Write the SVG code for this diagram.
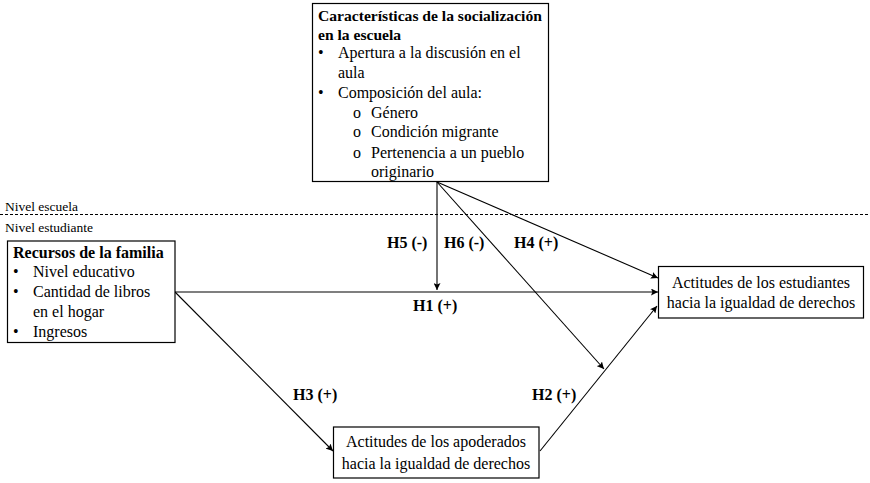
<svg xmlns="http://www.w3.org/2000/svg" width="870" height="483" viewBox="0 0 870 483">
<style>
text{font-family:'Liberation Serif','Times New Roman',serif;font-size:16px;fill:#000}
.b{font-weight:bold}
.t{font-size:15.6px}
.s{font-size:13.5px}
.c{text-anchor:middle}
.box{fill:#fff;stroke:#000;stroke-width:1.2}
.ln{stroke:#000;stroke-width:1.1;fill:none}
</style>
<defs>
<marker id="ah" viewBox="0 0 10 10" refX="10" refY="5" markerWidth="7" markerHeight="7" orient="auto" markerUnits="userSpaceOnUse">
<path d="M0,0 L10,5 L0,10 L2,5 Z" fill="#000"/>
</marker>
</defs>
<rect width="870" height="483" fill="#fff"/>
<g id="levels">
<line x1="0" y1="214.5" x2="870" y2="214.5" stroke="#000" stroke-width="1" stroke-dasharray="3,2"/>
<text class="s" x="5" y="211">Nivel escuela</text>
<text class="s" x="5" y="232">Nivel estudiante</text>
</g>
<g id="connectors">
<line class="ln" x1="437" y1="182" x2="437" y2="290" marker-end="url(#ah)"/>
<line class="ln" x1="175" y1="292" x2="658" y2="292" marker-end="url(#ah)"/>
<line class="ln" x1="437" y1="182" x2="658" y2="278" marker-end="url(#ah)"/>
<line class="ln" x1="437" y1="182" x2="604" y2="369" marker-end="url(#ah)"/>
<line class="ln" x1="540" y1="451" x2="657" y2="306" marker-end="url(#ah)"/>
<line class="ln" x1="175" y1="292" x2="333" y2="451" marker-end="url(#ah)"/>
<text class="b" x="387" y="248">H5 (-)</text>
<text class="b" x="444" y="248">H6 (-)</text>
<text class="b" x="514" y="248">H4 (+)</text>
<text class="b" x="413" y="311">H1 (+)</text>
<text class="b" x="293" y="400">H3 (+)</text>
<text class="b" x="532" y="400">H2 (+)</text>
</g>
<g id="escuela">
<rect class="box" x="312.5" y="3.5" width="236" height="178"/>
<text class="b t" x="318" y="21">Características de la socialización</text>
<text class="b t" x="318" y="40">en la escuela</text>
<text x="318" y="58">•</text><text x="338" y="58">Apertura a la discusión en el</text>
<text x="338" y="78">aula</text>
<text x="318" y="98">•</text><text x="338" y="98">Composición del aula:</text>
<text x="353" y="118">o</text><text x="371" y="118">Género</text>
<text x="353" y="137">o</text><text x="371" y="137">Condición migrante</text>
<text x="353" y="158">o</text><text x="371" y="158">Pertenencia a un pueblo</text>
<text x="371" y="177">originario</text>
</g>
<g id="familia">
<rect class="box" x="7.5" y="241" width="167.5" height="101.5"/>
<text class="b" x="13" y="258">Recursos de la familia</text>
<text x="13" y="277">•</text><text x="33" y="277">Nivel educativo</text>
<text x="13" y="297">•</text><text x="33" y="297">Cantidad de libros</text>
<text x="33" y="317">en el hogar</text>
<text x="13" y="337">•</text><text x="33" y="337">Ingresos</text>
</g>
<g id="estudiantes">
<rect class="box" x="658.5" y="266.5" width="205" height="51.5"/>
<text class="c" x="761" y="288">Actitudes de los estudiantes</text>
<text class="c" x="761" y="308">hacia la igualdad de derechos</text>
</g>
<g id="apoderados">
<rect class="box" x="333.5" y="427" width="205.5" height="51"/>
<text class="c" x="436" y="447">Actitudes de los apoderados</text>
<text class="c" x="436" y="469">hacia la igualdad de derechos</text>
</g>
</svg>
